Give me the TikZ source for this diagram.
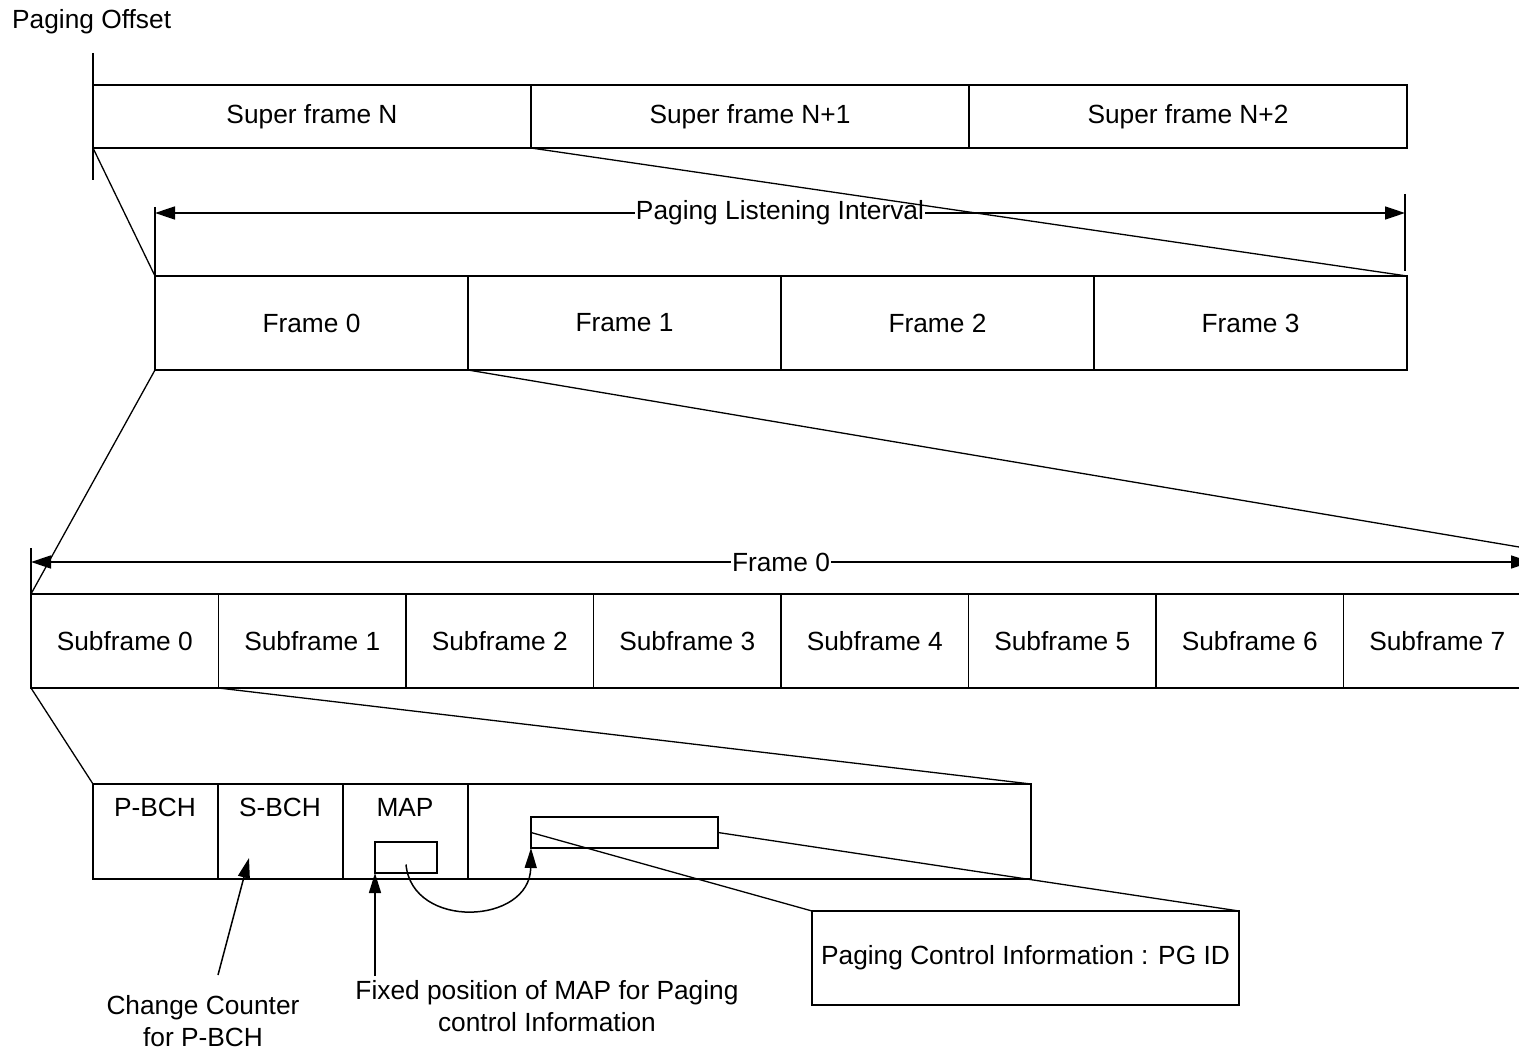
\documentclass[tikz,border=0pt]{standalone}
\usepackage{fontspec}
\setmainfont{Liberation Sans}
\usetikzlibrary{arrows.meta, positioning}

\tikzset{
    cell/.style={draw, line width=1.5pt, inner sep=0pt, outer sep=0pt, minimum height=94pt},
    tickline/.style={line width=1.5pt},
    link/.style={line width=1.3pt},
    dimarrow/.style={line width=1.5pt, {Triangle[length=20pt, width=13pt]}-{Triangle[length=20pt, width=13pt]}},
    pointer/.style={line width=1.5pt, -{Triangle[length=20pt, width=12pt]}},
    lbl/.style={fill=white, inner sep=1pt}
}

\begin{document}
\begin{tikzpicture}[x=1pt, y=-1pt, font=\fontsize{26.3}{32}\selectfont]
    \useasboundingbox (0,0) rectangle (1519,1051);

    % super frames
    \node[inner sep=0pt, anchor=west] (offset) at (12,22) {Paging Offset};
    \draw[tickline] (93,53) -- (93,180);
    \foreach \i/\t in {0/Super frame N, 1/Super frame N+1, 2/Super frame N+2}
        \node[cell, minimum width=438pt, minimum height=63pt] (sf\i) at (312+438*\i, 116.5) {\t};

    % frames
    \foreach \i in {0,...,3}
        \node[cell, minimum width=313pt] (fr\i) at (311.5+313*\i, 323) {Frame \i};
    \coordinate (pliL) at (155,213);
    \coordinate (pliR) at (1405,213);
    \draw[tickline] (155,207) -- (155,283);
    \draw[tickline] (1405,194) -- (1405,271);
    \draw[dimarrow] (pliL) -- node[lbl] {Paging Listening Interval} (pliR);
    \draw[link] (sf0.south west) -- (fr0.north west);
    \draw[link] (sf0.south east) -- (fr3.north east);

    % subframes
    \foreach \i in {0,...,7}
        \node[cell, minimum width=187.5pt] (sub\i) at (124.75+187.5*\i, 641) {Subframe \i};
    \coordinate (frL) at (31,562);
    \coordinate (frR) at (1531,562);
    \coordinate (frTop) at (1531,549);
    \draw[tickline] (31,548) -- (31,625);
    \draw[tickline] (1531,548) -- (1531,625);
    \draw[dimarrow] (frL) -- node[lbl] {Frame 0} (frR);
    \draw[link] (fr0.south west) -- (sub0.north west);
    \draw[link] (fr0.south east) -- (frTop);

    % subframe 0 detail
    \node[cell, minimum width=125pt, minimum height=95pt] (pbch) at (155.5,831.5) {};
    \node[cell, minimum width=125pt, minimum height=95pt] (sbch) at (280.5,831.5) {};
    \node[cell, minimum width=125pt, minimum height=95pt] (map) at (405.5,831.5) {};
    \node[cell, minimum width=563pt, minimum height=95pt] (data) at (749.5,831.5) {};
    \node (pbchtxt) at (155,807) {P-BCH};
    \node (sbchtxt) at (280,807) {S-BCH};
    \node (maptxt) at (405,807) {MAP};
    \draw[link] (sub0.south west) -- (pbch.north west);
    \draw[link] (sub0.south east) -- (data.north east);

    \node[cell, minimum width=62pt, minimum height=31pt] (mapbox) at (406,857.5) {};
    \node[cell, minimum width=187pt, minimum height=31pt] (pgbox) at (624.5,832.5) {};
    \node[cell, minimum width=427pt] (pci) at (1025.5,958) {Paging Control Information : PG ID};
    \draw[link] (pgbox.west) -- (pci.north west);
    \draw[link] (pgbox.east) -- (pci.north east);
    \draw[pointer] ([yshift=-7pt]mapbox.center) .. controls (412,930) and (530,925) .. (pgbox.south west);

    % notes
    \node[align=center] (ccnote) at (203,1021) {Change Counter\\for P-BCH};
    \coordinate (ccfrom) at (218,975);
    \coordinate (ccto) at (249,858);
    \draw[pointer] (ccfrom) -- (ccto);
    \node[align=center] (fixnote) at (547,1006) {Fixed position of MAP for Paging\\control Information};
    \coordinate (fixfrom) at (375,976);
    \draw[pointer] (fixfrom) -- (mapbox.south west);
\end{tikzpicture}
\end{document}
